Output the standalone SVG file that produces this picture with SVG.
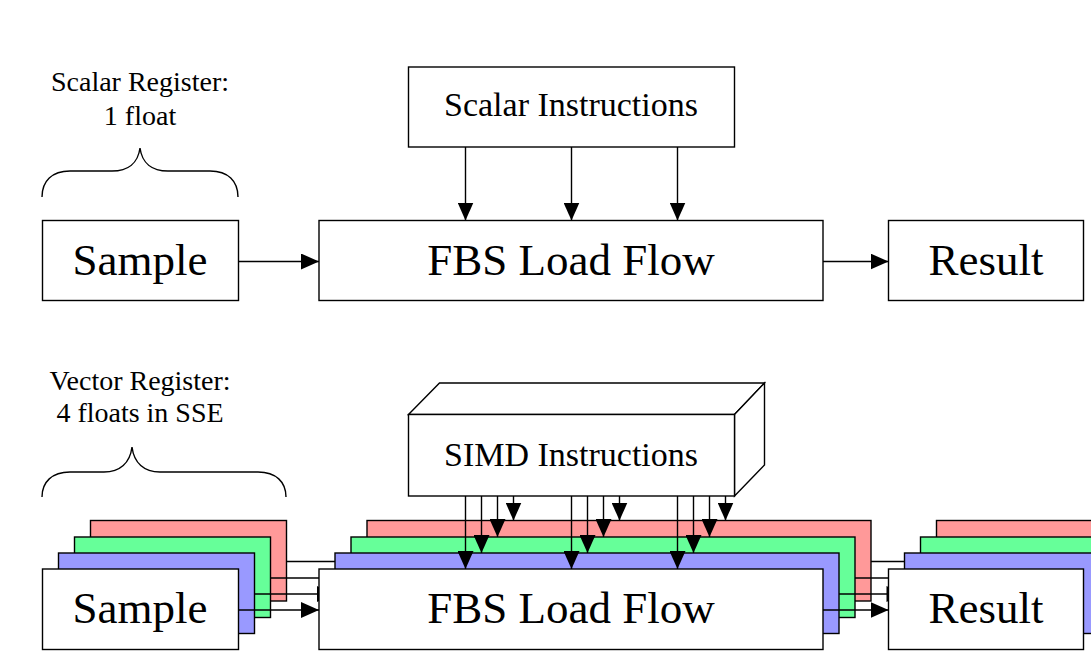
<svg xmlns="http://www.w3.org/2000/svg" width="1091" height="652" viewBox="0 0 1091 652">
<style>
.box{fill:#fff;stroke:#000;stroke-width:1.4}
.r{fill:#FF9999;stroke:#000;stroke-width:1.4}
.g{fill:#66FF99;stroke:#000;stroke-width:1.4}
.b{fill:#9999FF;stroke:#000;stroke-width:1.4}
.big{font-family:"Liberation Serif","Times New Roman",serif;font-size:45px;text-anchor:middle;fill:#000}
.mid{font-family:"Liberation Serif","Times New Roman",serif;font-size:34px;text-anchor:middle;fill:#000}
.lab{font-family:"Liberation Serif","Times New Roman",serif;font-size:28px;text-anchor:middle;fill:#000}
.ln{stroke:#000;stroke-width:1.4;fill:none}
.arr{stroke:#000;stroke-width:1.4;fill:none;marker-end:url(#ah)}
.brace{stroke:#000;stroke-width:1.4;fill:none}
</style>
<defs>
<marker id="ah" markerUnits="userSpaceOnUse" markerWidth="18" markerHeight="16" refX="18" refY="8" orient="auto">
<path d="M0,0 L18,8 L0,16 Z" fill="#000"/>
</marker>
</defs>
<rect width="1091" height="652" fill="#fff"/>

<!-- Top (scalar) row -->
<g id="scalar-register-label">
<text class="lab" x="140" y="91">Scalar Register:</text>
<text class="lab" x="140" y="125">1 float</text>
<path class="brace" d="M42,197 C42,181 52,171 70,171 L112,171 C128,171 138,163 140,148 C142,163 152,171 168,171 L210,171 C228,171 238,181 238,197"/>
</g>
<g id="scalar-instructions">
<rect class="box" x="408.5" y="67" width="326" height="80"/>
<text class="mid" x="571" y="116">Scalar Instructions</text>
</g>
<g id="sample-top">
<rect class="box" x="42.5" y="220.5" width="196" height="80"/>
<text class="big" x="140" y="275">Sample</text>
</g>
<g id="fbs-top">
<rect class="box" x="319" y="220.5" width="504" height="80"/>
<text class="big" x="571" y="275">FBS Load Flow</text>
</g>
<g id="result-top">
<rect class="box" x="888.5" y="220.5" width="195" height="80"/>
<text class="big" x="986" y="275">Result</text>
</g>

<!-- Bottom (vector) row -->
<g id="vector-register-label">
<text class="lab" x="140" y="390">Vector Register:</text>
<text class="lab" x="140" y="422">4 floats in SSE</text>
<path class="brace" d="M42,497 C42,482 52,472 70,472 L104,472 C120,472 130,463 132,447 C134,463 144,472 160,472 L258,472 C276,472 286,482 286,497"/>
</g>
<g id="simd-instructions">
<polygon class="box" points="408.5,414.5 439.5,383 764.5,383 734.5,414.5"/>
<polygon class="box" points="734.5,414.5 764.5,383 764.5,465 734.5,496"/>
<rect class="box" x="408.5" y="414.5" width="326" height="81.5"/>
<text class="mid" x="571" y="466">SIMD Instructions</text>
</g>
<g id="sample-vec">
<rect class="r" x="90.5" y="520.5" width="196" height="80.5"/>
<rect class="g" x="74.5" y="537" width="196" height="80.5"/>
<rect class="b" x="58.5" y="553" width="196" height="80.5"/>
<rect class="box" x="42.5" y="569" width="196" height="80.5"/>
<text class="big" x="140" y="623">Sample</text>
</g>
<g id="fbs-vec">
<rect class="r" x="367" y="520.5" width="504" height="80.5"/>
<rect class="g" x="351" y="537" width="504" height="80.5"/>
<rect class="b" x="335" y="553" width="504" height="80.5"/>
<rect class="box" x="319" y="569" width="504" height="80.5"/>
<text class="big" x="571" y="623">FBS Load Flow</text>
</g>
<g id="result-vec">
<rect class="r" x="936.5" y="520.5" width="195" height="80.5"/>
<rect class="g" x="920.5" y="537" width="195" height="80.5"/>
<rect class="b" x="904.5" y="553" width="195" height="80.5"/>
<rect class="box" x="888.5" y="569" width="195" height="80.5"/>
<text class="big" x="986" y="623">Result</text>
</g>

<g id="connectors">
<!-- top row -->
<line class="arr" x1="238.5" y1="261.5" x2="319" y2="261.5"/>
<line class="arr" x1="823" y1="261.5" x2="888.5" y2="261.5"/>
<line class="arr" x1="465.5" y1="147" x2="465.5" y2="220.5"/>
<line class="arr" x1="571.5" y1="147" x2="571.5" y2="220.5"/>
<line class="arr" x1="677.5" y1="147" x2="677.5" y2="220.5"/>
<!-- bottom row, layered (occluded parts omitted) -->
<line class="ln" x1="286.5" y1="561.5" x2="335" y2="561.5"/>
<line class="ln" x1="871" y1="561.5" x2="904.5" y2="561.5"/>
<line class="ln" x1="270.5" y1="578" x2="319" y2="578"/>
<line class="ln" x1="855" y1="578" x2="888.5" y2="578"/>
<line class="ln" x1="254.5" y1="594" x2="319" y2="594"/>
<polygon points="317,586 319,586.9 319,601.1 317,602" fill="#000"/>
<line class="ln" x1="839" y1="594" x2="888.5" y2="594"/>
<polygon points="886.5,586 888.5,586.9 888.5,601.1 886.5,602" fill="#000"/>
<line class="arr" x1="238.5" y1="610" x2="319" y2="610"/>
<line class="arr" x1="823" y1="610" x2="888.5" y2="610"/>
<!-- SIMD arrows -->
<line class="arr" x1="465.5" y1="496" x2="465.5" y2="569"/>
<line class="arr" x1="481.5" y1="496" x2="481.5" y2="553"/>
<line class="arr" x1="497.5" y1="496" x2="497.5" y2="537"/>
<line class="arr" x1="513.5" y1="496" x2="513.5" y2="520.5"/>
<line class="arr" x1="571.5" y1="496" x2="571.5" y2="569"/>
<line class="arr" x1="587.5" y1="496" x2="587.5" y2="553"/>
<line class="arr" x1="603.5" y1="496" x2="603.5" y2="537"/>
<line class="arr" x1="619.5" y1="496" x2="619.5" y2="520.5"/>
<line class="arr" x1="677.5" y1="496" x2="677.5" y2="569"/>
<line class="arr" x1="693.5" y1="496" x2="693.5" y2="553"/>
<line class="arr" x1="709.5" y1="496" x2="709.5" y2="537"/>
<line class="arr" x1="725.5" y1="496" x2="725.5" y2="520.5"/>
</g>
</svg>
